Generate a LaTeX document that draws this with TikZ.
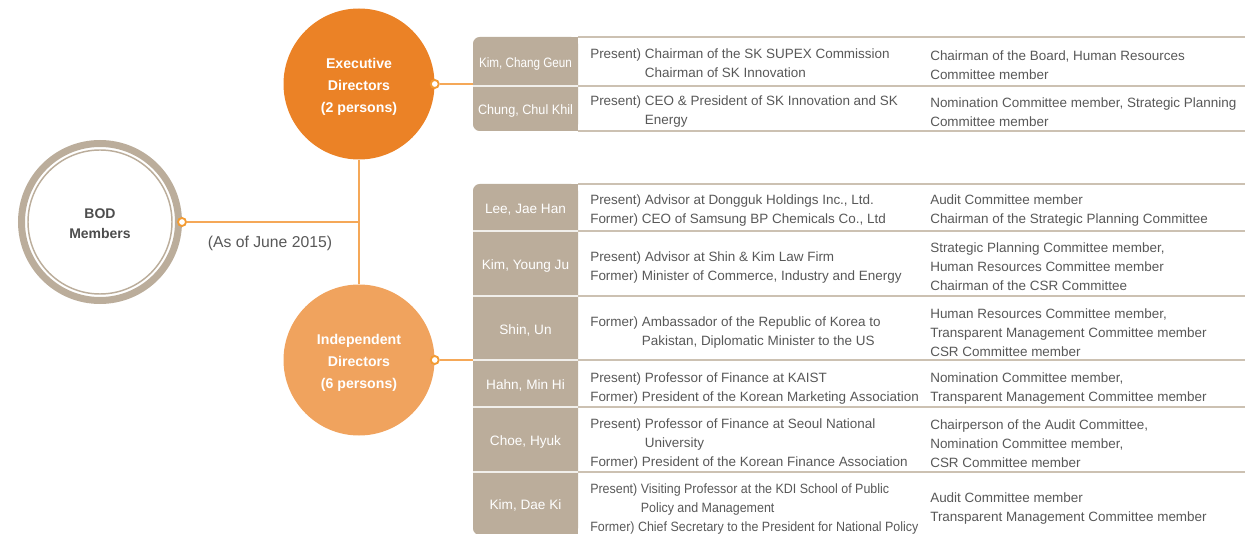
\documentclass[tikz,border=0pt]{standalone}
\usepackage{fontspec}
\setmainfont{Liberation Sans}
\usetikzlibrary{positioning}

\definecolor{bodtan}{RGB}{187,173,155}
\definecolor{bodtext}{RGB}{77,77,77}
\definecolor{execorange}{RGB}{235,130,38}
\definecolor{indorange}{RGB}{240,163,94}
\definecolor{lineorange}{RGB}{245,168,88}
\definecolor{dotorange}{RGB}{243,155,50}
\definecolor{txtgray}{RGB}{88,88,88}
\definecolor{rulegray}{RGB}{204,193,178}

\begin{document}
\begin{tikzpicture}[x=0.75pt,y=-0.75pt,
    dot/.style={circle,draw=dotorange,fill=white,line width=1.4pt,inner sep=0pt,minimum size=6pt},
    link/.style={draw=lineorange,line width=1.4pt},
    big/.style={circle,inner sep=0pt,align=center,text=white,font=\bfseries\fontsize{10.6}{16.5}\selectfont},
    info/.style={anchor=west,align=left,inner sep=0pt,yshift=-2.2pt,text=txtgray,font=\fontsize{10.1}{14.25}\selectfont},
    who/.style={text=white,inner sep=0pt,yshift=-1.6pt,font=\fontsize{10.2}{12}\selectfont},
    rowline/.style={draw=rulegray,line width=1.2pt},
    cellsep/.style={draw=white!80!bodtan,line width=1.2pt}]
\useasboundingbox (0,0) rectangle (1245,534);

% board
\node[circle,draw=bodtan,line width=5.25pt,minimum size=117.75pt,inner sep=0pt] (bod) at (100,222) {};
\node[circle,draw=bodtan,line width=1.1pt,minimum size=108pt,inner sep=0pt] (bodin) at (bod) {};
\node[align=center,text=bodtext,yshift=-1.5pt,font=\bfseries\fontsize{10.5}{15}\selectfont] (bodtxt) at (bod) {BOD\\Members};

% the two groups
\node[big,fill=execorange,minimum size=113.25pt] (exec) at (359,84) {};
\node[big,fill=indorange,minimum size=113.25pt] (indep) at (359,360) {};
\node[big,yshift=-2.5pt] (exectxt) at (exec) {Executive\\Directors\\(2 persons)};
\node[big,yshift=-2.5pt] (indeptxt) at (indep) {Independent\\Directors\\(6 persons)};

\node[dot] (bdot) at (bod.east) {};
\node[dot] (edot) at (exec.east) {};
\node[dot] (idot) at (indep.east) {};

\coordinate (hub) at (exec.south |- bdot);
\coordinate (etab) at (473,84);
\coordinate (itab) at (473,360);
\draw[link] (bdot) -- (hub);
\draw[link] (exec) -- (indep);
\draw[link] (edot) -- (etab);
\draw[link] (idot) -- (itab);

\node[text=txtgray,font=\fontsize{11.8}{14}\selectfont] (asof) at (270,243) {(As of June 2015)};

% executive table
\fill[bodtan,rounded corners=5pt] (473,37) rectangle (578,131);
\fill[bodtan] (550,37) rectangle (578,131);
\foreach \y in {37,86,131}
    \draw[rowline] (578,\y) -- (1245,\y);
\draw[cellsep] (473,86) -- (578,86);

\node[who] (kcg) at (525.5,61.5) {\scalebox{0.86}[1]{Kim, Chang Geun}};
\node[who] (cck) at (525.5,108.5) {\scalebox{0.93}[1]{Chung, Chul Khil}};

\node[info] (kcgnow) at (590,62) {Present) Chairman of the SK SUPEX Commission\\\phantom{Present) }Chairman of SK Innovation};
\node[info] (kcgrole) at (930,62) {Chairman of the Board, Human Resources\\Committee member};
\node[info] (ccknow) at (590,109) {Present) CEO \& President of SK Innovation and SK\\\phantom{Present) }Energy};
\node[info] (cckrole) at (930,109) {Nomination Committee member, Strategic Planning\\Committee member};

% independent table
\fill[bodtan,rounded corners=5pt] (473,184) rectangle (578,535);
\fill[bodtan] (550,184) rectangle (578,535);
\foreach \y in {184,231,296,360,407,472}
    \draw[rowline] (578,\y) -- (1245,\y);
\foreach \y in {231,296,360,407,472}
    \draw[cellsep] (473,\y) -- (578,\y);

\node[who] (ljh) at (525.5,207.5) {Lee, Jae Han};
\node[who] (kyj) at (525.5,263.5) {Kim, Young Ju};
\node[who] (su) at (525.5,328) {Shin, Un};
\node[who] (hmh) at (525.5,383.5) {Hahn, Min Hi};
\node[who] (ch) at (525.5,439.5) {Choe, Hyuk};
\node[who] (kdk) at (525.5,503) {Kim, Dae Ki};

\node[info] (ljhnow) at (590,208) {Present) Advisor at Dongguk Holdings Inc., Ltd.\\Former) CEO of Samsung BP Chemicals Co., Ltd};
\node[info] (ljhrole) at (930,208) {Audit Committee member\\Chairman of the Strategic Planning Committee};
\node[info] (kyjnow) at (590,264.5) {Present) Advisor at Shin \& Kim Law Firm\\Former) Minister of Commerce, Industry and Energy};
\node[info] (kyjrole) at (930,264) {Strategic Planning Committee member,\\Human Resources Committee member\\Chairman of the CSR Committee};
\node[info] (sunow) at (590,329.5) {Former) Ambassador of the Republic of Korea to\\\phantom{Former) }Pakistan, Diplomatic Minister to the US};
\node[info] (surole) at (930,329.5) {Human Resources Committee member,\\Transparent Management Committee member\\CSR Committee member};
\node[info] (hmhnow) at (590,385.5) {Present) Professor of Finance at KAIST\\Former) President of the Korean Marketing Association};
\node[info] (hmhrole) at (930,385.5) {Nomination Committee member,\\Transparent Management Committee member};
\node[info] (chnow) at (590,441) {Present) Professor of Finance at Seoul National\\\phantom{Present) }University\\Former) President of the Korean Finance Association};
\node[info] (chrole) at (930,441) {Chairperson of the Audit Committee,\\Nomination Committee member,\\CSR Committee member};
\node[info] (kdknow) at (590,506) {\scalebox{0.925}[1]{\begin{tabular}{@{}l@{}}Present) Visiting Professor at the KDI School of Public\\\phantom{Present) }Policy and Management\\Former) Chief Secretary to the President for National Policy\end{tabular}}};
\node[info] (kdkrole) at (930,506) {Audit Committee member\\Transparent Management Committee member};
\end{tikzpicture}
\end{document}
